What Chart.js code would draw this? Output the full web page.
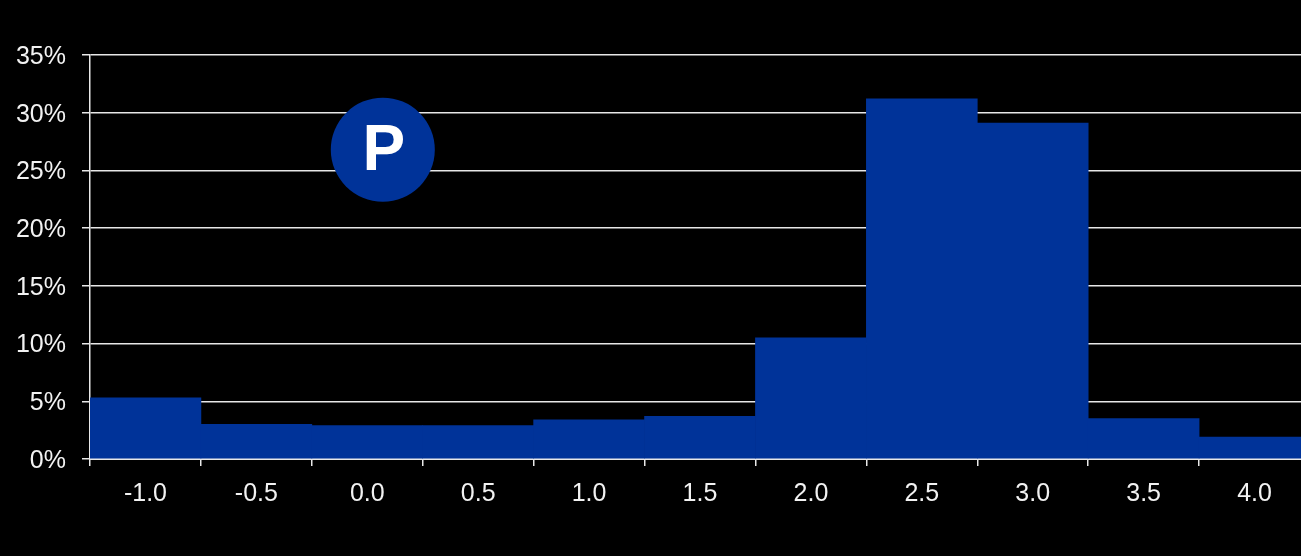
<!DOCTYPE html>
<html>
<head>
<meta charset="utf-8">
<script src="https://cdn.jsdelivr.net/npm/chart.js@4/dist/chart.umd.min.js"></script>
<style>
  html, body { margin: 0; padding: 0; background: #000; overflow: hidden; }
  #wrap { position: relative; width: 1312px; height: 556px; }
</style>
</head>
<body>
<div id="wrap"><canvas id="c" width="1312" height="556"></canvas></div>
<script>
const categories = ["-1.0", "-0.5", "0.0", "0.5", "1.0", "1.5", "2.0", "2.5", "3.0", "3.5", "4.0"];
const shares = [5.3, 3.0, 2.9, 2.9, 3.4, 3.7, 10.5, 31.2, 29.1, 3.5, 1.9];
const yTicks = [0, 5, 10, 15, 20, 25, 30, 35];
const badgeLabel = "P";
const badgePos = { x: 2.14, y: 26.8 };

const badgePlugin = {
  id: 'badge',
  afterDatasetsDraw(chart) {
    const { ctx, scales } = chart;
    const cx = scales.x.getPixelForValue(badgePos.x);
    const cy = scales.y.getPixelForValue(badgePos.y);
    ctx.save();
    ctx.beginPath();
    ctx.arc(cx, cy, 52, 0, Math.PI * 2);
    ctx.fillStyle = '#003399';
    ctx.fill();
    ctx.fillStyle = '#ffffff';
    ctx.font = 'bold 64px "Liberation Sans", Arial, sans-serif';
    ctx.textAlign = 'center';
    ctx.textBaseline = 'middle';
    ctx.fillText(badgeLabel, cx + 1, cy + 3);
    ctx.restore();
  }
};

new Chart(document.getElementById('c'), {
  type: 'bar',
  data: {
    labels: categories,
    datasets: [{
      data: shares,
      backgroundColor: '#003399',
      borderWidth: 0,
      categoryPercentage: 1.0,
      barPercentage: 1.0
    }]
  },
  options: {
    responsive: false,
    animation: false,
    devicePixelRatio: 1,
    layout: { padding: { top: 55, right: 2, bottom: 0, left: 0 } },
    plugins: { legend: { display: false }, tooltip: { enabled: false } },
    scales: {
      x: {
        grid: { display: true, drawOnChartArea: false, drawTicks: true, tickLength: 7, color: '#e8e8e8', lineWidth: 1.5, offset: true },
        border: { display: true, color: '#e8e8e8', width: 2 },
        ticks: { color: '#f2f2f2', font: { family: '"Liberation Sans", Arial, sans-serif', size: 25 }, padding: 13, maxRotation: 0 },
        afterFit(s) { s.height = 97; }
      },
      y: {
        min: 0, max: 35,
        afterBuildTicks(s) { s.ticks = yTicks.map(v => ({ value: v })); },
        grid: { color: '#e8e8e8', lineWidth: 1.5, drawTicks: true, tickLength: 8 },
        border: { display: true, color: '#e8e8e8', width: 1.5 },
        ticks: { color: '#f2f2f2', font: { family: '"Liberation Sans", Arial, sans-serif', size: 25 }, padding: 16, labelOffset: 2, callback: v => v + '%' },
        afterFit(s) { s.width = 90; }
      }
    }
  },
  plugins: [badgePlugin]
});
</script>
</body>
</html>
